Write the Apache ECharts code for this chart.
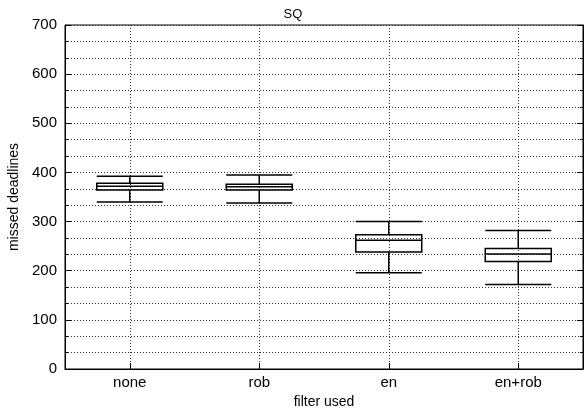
<!DOCTYPE html>
<html>
<head>
<meta charset="utf-8">
<script src="https://cdn.jsdelivr.net/npm/echarts@6/dist/echarts.min.js"></script>
<style>
  html, body { margin: 0; padding: 0; background: #fff; }
  #chart { width: 586px; height: 408px; }
</style>
</head>
<body>
<div id="chart"></div>
<script>
// filters on the x axis
const filters = ['none', 'rob', 'en', 'en+rob'];
// [lower whisker, Q1, median, Q3, upper whisker]
const noneBox = [340, 364, 372, 378, 392];
const robBox = [338, 364, 371, 376, 395];
const enBox = [196, 238, 262, 273, 300];
const enRobBox = [172, 219, 234, 245, 282];

const font = 'Liberation Sans, Arial, Helvetica, sans-serif';
const dotted = { color: '#333', type: [1, 2], width: 1 };

const chart = echarts.init(document.getElementById('chart'));

const yBase = {
  type: 'value',
  min: 0,
  max: 700,
  interval: 100,
  axisLine: { show: true, lineStyle: { color: '#000' } },
  axisTick: { show: true, inside: true, length: 6, lineStyle: { color: '#000' } },
  minorTick: { show: true, splitNumber: 3, length: 3, lineStyle: { color: '#000' } }
};

chart.setOption({
  animation: false,
  title: {
    text: 'SQ',
    left: 'center',
    top: 3,
    textStyle: { fontFamily: font, fontSize: 13, fontWeight: 'normal', color: '#000' }
  },
  grid: {
    left: 65, right: 3, top: 25, bottom: 39,
    outerBoundsMode: 'none',
    containLabel: false,
    show: true, borderColor: '#000', borderWidth: 1
  },
  xAxis: {
    type: 'category',
    data: filters,
    boundaryGap: true,
    name: 'filter used',
    nameLocation: 'middle',
    nameGap: 21,
    nameTextStyle: { fontFamily: font, fontSize: 14, color: '#000' },
    axisLine: { show: true, lineStyle: { color: '#000' } },
    axisTick: { show: true, inside: true, alignWithLabel: true, length: 6, lineStyle: { color: '#000' } },
    axisLabel: { fontFamily: font, fontSize: 15, color: '#000', margin: 6 },
    splitLine: { show: true, alignWithLabel: true, lineStyle: dotted }
  },
  yAxis: [
    Object.assign({}, yBase, {
      position: 'left',
      name: 'missed deadlines',
      nameLocation: 'middle',
      nameGap: 39,
      nameTextStyle: { fontFamily: font, fontSize: 14, color: '#000' },
      axisLabel: { fontFamily: font, fontSize: 15, color: '#000', margin: 8 },
      splitLine: { show: true, lineStyle: dotted },
      minorSplitLine: { show: true, lineStyle: dotted }
    }),
    Object.assign({}, yBase, {
      position: 'right',
      axisLabel: { show: false },
      splitLine: { show: false }
    })
  ],
  series: [{
    type: 'boxplot',
    data: [noneBox, robBox, enBox, enRobBox],
    boxWidth: [66, 66],
    itemStyle: { color: 'rgba(255,255,255,0)', borderColor: '#000', borderWidth: 1.5 },
    emphasis: { disabled: true }
  }]
});
</script>
</body>
</html>
